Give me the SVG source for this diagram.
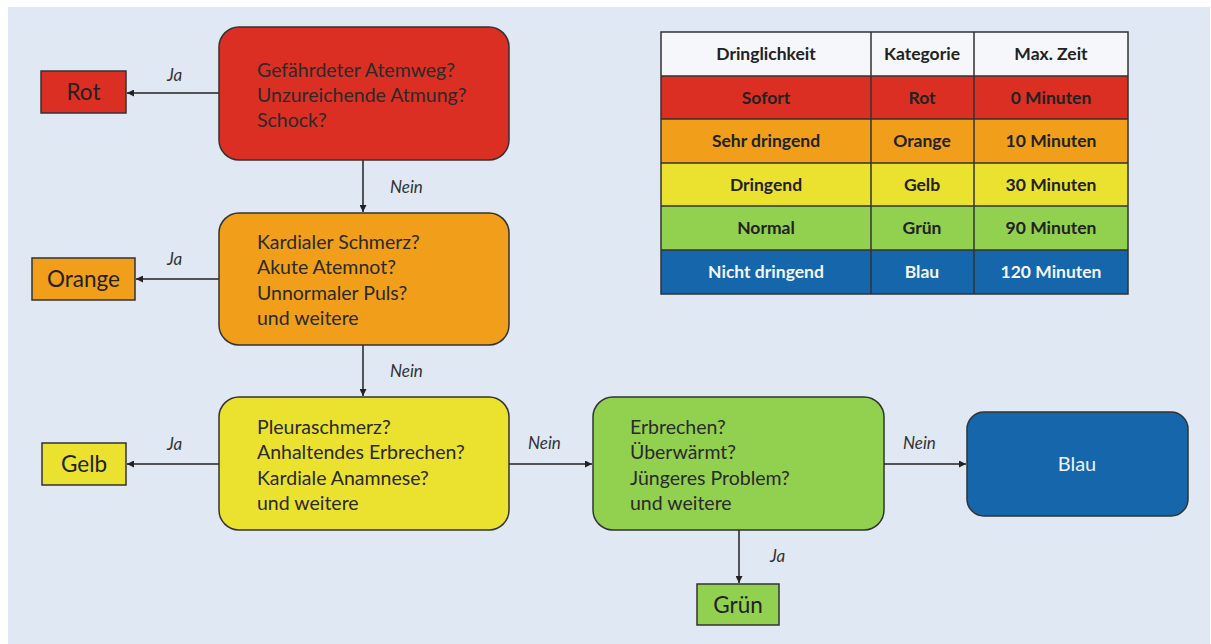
<svg xmlns="http://www.w3.org/2000/svg" width="1211" height="644" viewBox="0 0 1211 644">
  <defs>
    <marker id="arrow" viewBox="0 0 10 10" refX="10" refY="5" markerWidth="7" markerHeight="7" markerUnits="userSpaceOnUse" orient="auto">
      <path d="M0,0 L10,5 L0,10 z" fill="#222"/>
    </marker>
    <style>
      .box { stroke: #333; stroke-width: 1.5; }
      .red { fill: #dc2f23; }
      .orange { fill: #f19f1a; }
      .yellow { fill: #ebe12f; }
      .green { fill: #92d050; }
      .blue { fill: #1566aa; }
      .q { font-family: Lato, "Liberation Sans", sans-serif; font-size: 19.5px; fill: #2a2a2a; }
      .lbl { font-family: Lato, "Liberation Sans", sans-serif; font-size: 22.5px; fill: #222; text-anchor: middle; }
      .yn { font-family: Lato, "Liberation Sans", sans-serif; font-size: 17px; font-style: italic; fill: #333; }
      .conn { stroke: #222; stroke-width: 1.5; fill: none; marker-end: url(#arrow); }
      .th { font-family: Lato, "Liberation Sans", sans-serif; font-size: 17.5px; font-weight: bold; fill: #222; text-anchor: middle; }
      .grid { stroke: #333; stroke-width: 1.5; fill: none; }
    </style>
  </defs>

  <!-- panel -->
  <rect x="0" y="0" width="1211" height="644" fill="#ffffff"/>
  <rect x="8" y="7" width="1202" height="637" fill="#dfe8f3"/>

  <!-- connectors -->
  <g id="connectors">
    <line class="conn" x1="219" y1="93" x2="127" y2="93"/>
    <line class="conn" x1="363" y1="160" x2="363" y2="212"/>
    <line class="conn" x1="219" y1="279" x2="136" y2="279"/>
    <line class="conn" x1="363" y1="345" x2="363" y2="396"/>
    <line class="conn" x1="219" y1="464" x2="127" y2="464"/>
    <line class="conn" x1="509" y1="464" x2="592" y2="464"/>
    <line class="conn" x1="884" y1="464" x2="966" y2="464"/>
    <line class="conn" x1="739" y1="530" x2="739" y2="583"/>
    <text class="yn" x="167" y="81">Ja</text>
    <text class="yn" x="390" y="193">Nein</text>
    <text class="yn" x="167" y="265">Ja</text>
    <text class="yn" x="390" y="377">Nein</text>
    <text class="yn" x="167" y="450">Ja</text>
    <text class="yn" x="528" y="449">Nein</text>
    <text class="yn" x="903" y="449">Nein</text>
    <text class="yn" x="770" y="562">Ja</text>
  </g>

  <!-- decision nodes -->
  <g id="q-red">
    <rect class="box red" x="219" y="27" width="290" height="133" rx="20"/>
    <text class="q" x="257" y="77">Gefährdeter Atemweg?</text>
    <text class="q" x="257" y="102">Unzureichende Atmung?</text>
    <text class="q" x="257" y="127">Schock?</text>
  </g>
  <g id="q-orange">
    <rect class="box orange" x="219" y="213" width="290" height="132" rx="20"/>
    <text class="q" x="257" y="249">Kardialer Schmerz?</text>
    <text class="q" x="257" y="274">Akute Atemnot?</text>
    <text class="q" x="257" y="300">Unnormaler Puls?</text>
    <text class="q" x="257" y="325">und weitere</text>
  </g>
  <g id="q-yellow">
    <rect class="box yellow" x="219" y="397" width="290" height="133" rx="20"/>
    <text class="q" x="257" y="434">Pleuraschmerz?</text>
    <text class="q" x="257" y="459">Anhaltendes Erbrechen?</text>
    <text class="q" x="257" y="485">Kardiale Anamnese?</text>
    <text class="q" x="257" y="510">und weitere</text>
  </g>
  <g id="q-green">
    <rect class="box green" x="593" y="397" width="291" height="133" rx="20"/>
    <text class="q" x="630" y="434">Erbrechen?</text>
    <text class="q" x="630" y="459">Überwärmt?</text>
    <text class="q" x="630" y="485">Jüngeres Problem?</text>
    <text class="q" x="630" y="510">und weitere</text>
  </g>
  <g id="blau">
    <rect class="box blue" x="967" y="412" width="221" height="104" rx="17"/>
    <text class="q" x="1077" y="471" text-anchor="middle" style="fill:#eef3fa; font-size:20px">Blau</text>
  </g>

  <!-- outcome nodes -->
  <g id="rot">
    <rect class="box red" x="41" y="71" width="85" height="42"/>
    <text class="lbl" x="83.5" y="100">Rot</text>
  </g>
  <g id="orange">
    <rect class="box orange" x="32" y="258" width="103" height="42"/>
    <text class="lbl" x="83.5" y="287">Orange</text>
  </g>
  <g id="gelb">
    <rect class="box yellow" x="42" y="443" width="84" height="42"/>
    <text class="lbl" x="84" y="472">Gelb</text>
  </g>
  <g id="gruen">
    <rect class="box green" x="697" y="584" width="82" height="41"/>
    <text class="lbl" x="738" y="613">Grün</text>
  </g>

  <!-- legend table -->
  <g id="legend">
    <rect x="661" y="32" width="467" height="44" fill="#f5f7fb"/>
    <rect class="red" x="661" y="76" width="467" height="43"/>
    <rect class="orange" x="661" y="119" width="467" height="44"/>
    <rect class="yellow" x="661" y="163" width="467" height="43"/>
    <rect class="green" x="661" y="206" width="467" height="44"/>
    <rect class="blue" x="661" y="250" width="467" height="44"/>
    <rect class="grid" x="661" y="32" width="467" height="262"/>
    <path class="grid" d="M661,76 H1128 M661,119 H1128 M661,163 H1128 M661,206 H1128 M661,250 H1128 M871,32 V294 M974,32 V294"/>
    <text class="th" x="766" y="60">Dringlichkeit</text>
    <text class="th" x="922" y="60">Kategorie</text>
    <text class="th" x="1051" y="60">Max. Zeit</text>
    <text class="th" x="766" y="104">Sofort</text>
    <text class="th" x="922" y="104">Rot</text>
    <text class="th" x="1051" y="104">0 Minuten</text>
    <text class="th" x="766" y="147">Sehr dringend</text>
    <text class="th" x="922" y="147">Orange</text>
    <text class="th" x="1051" y="147">10 Minuten</text>
    <text class="th" x="766" y="191">Dringend</text>
    <text class="th" x="922" y="191">Gelb</text>
    <text class="th" x="1051" y="191">30 Minuten</text>
    <text class="th" x="766" y="234">Normal</text>
    <text class="th" x="922" y="234">Grün</text>
    <text class="th" x="1051" y="234">90 Minuten</text>
    <text class="th" x="766" y="278" style="fill:#f4f7fb">Nicht dringend</text>
    <text class="th" x="922" y="278" style="fill:#f4f7fb">Blau</text>
    <text class="th" x="1051" y="278" style="fill:#f4f7fb">120 Minuten</text>
  </g>
</svg>
